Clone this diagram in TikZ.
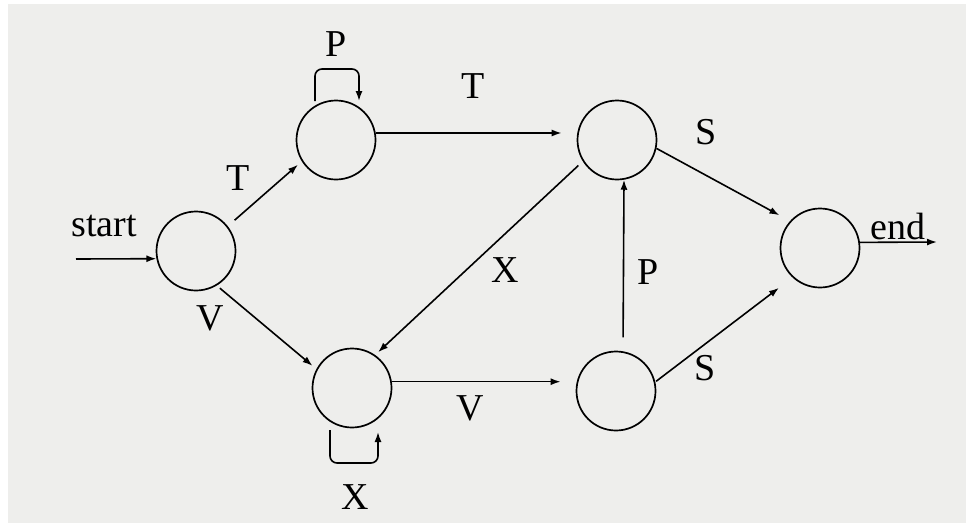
\documentclass[tikz,border=0pt]{standalone}
\usepackage{fontspec}
\setmainfont{Liberation Serif}
\usetikzlibrary{arrows.meta}
\definecolor{bg}{RGB}{238,238,236}
\begin{document}
\begin{tikzpicture}[x=1pt,y=-1pt,
  state/.style={circle,draw,line width=1.7pt,minimum size=79pt,inner sep=0pt},
  lbl/.style={inner sep=0pt,font=\fontsize{38}{38}\selectfont},
  edge/.style={line width=1.6pt,-{Latex[length=10pt,width=7pt]}},
  loopedge/.style={edge,rounded corners=7pt}]
\useasboundingbox (0,0) rectangle (966,525);
\fill[white] (0,0) rectangle (966,525);
\fill[bg] (8,4) rectangle (966,523);
% states
\node[state] (n1) at (196,251) {};
\node[state] (n2) at (336,140) {};
\node[state] (n3) at (352,388) {};
\node[state] (n4) at (617,140) {};
\node[state] (n5) at (616,391) {};
\node[state] (n6) at (820,248) {};
% free ends
\coordinate (s) at (76,259);
\coordinate (e) at (937,242);
% connectors
\draw[edge] (s) -- (n1.191);
\draw[edge] (n6.8) -- (e);
\draw[edge,shorten <=9pt,shorten >=5pt] (n1.38) -- (n2.212);
\draw[edge,shorten <=4pt,shorten >=5pt] (n1.-59) -- (n3.152);
\draw[edge,shorten >=15pt] (n2.10) -- (n2.10 -| n4.west);
\draw[edge,shorten <=6pt,shorten >=4pt] (n4.212) -- (n3.55);
\draw[edge,shorten >=15pt] (n3.9) -- (n3.9 -| n5.west);
\draw[edge,shorten <=14pt] (n5.80) -- (n4.280);
\draw[edge,shorten >=12pt] (n4.-12) -- (n6.138);
\draw[edge,shorten <=1pt,shorten >=17pt] (n5.13) -- (n6.227);
% self loops
\draw[loopedge] ([shift={(-21,-39)}]n2.center) -- ++(0,-32) -- ++(44,0) -- ++(0,32);
\draw[loopedge] ([shift={(-22,42)}]n3.center) -- ++(0,33) -- ++(48,0) -- ++(0,-31);
% labels
\node[lbl] (lstart) at (104,226) {start};
\node[lbl] (lend) at (898,226) {end};
\node[lbl] (lp1) at (336,44) {P};
\node[lbl] (lt1) at (238,178) {T};
\node[lbl] (lt2) at (473,86) {T};
\node[lbl] (ls1) at (706,132) {S};
\node[lbl] (lx1) at (505,270) {X};
\node[lbl] (lp2) at (648,272) {P};
\node[lbl] (lv1) at (210,318) {V};
\node[lbl] (lv2) at (470,408) {V};
\node[lbl] (ls2) at (705,368) {S};
\node[lbl] (lx2) at (355,497) {X};
\end{tikzpicture}
\end{document}
